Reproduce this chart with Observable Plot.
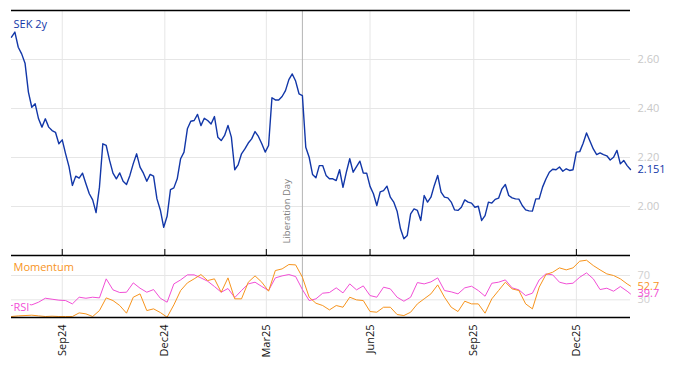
<!DOCTYPE html>
<html><head><meta charset="utf-8">
<script src="https://cdn.jsdelivr.net/npm/d3@7"></script>
<script src="https://cdn.jsdelivr.net/npm/@observablehq/plot@0.6"></script>
<style>
body{margin:0;background:#fff;}
#chart{width:674px;height:366px;overflow:hidden;}
#chart svg{display:block;}
</style></head><body><div id="chart"></div>
<script>
// ---- data ----
const seriesName = "SEK 2y";
const startDate = "2024-07-18";
const endDate = "2026-01-18";
const stepDays = 3;
const sek2y = [
2.691,2.712,2.650,2.623,2.585,2.467,2.405,2.419,2.358,2.324,
2.358,2.324,2.310,2.303,2.256,2.272,2.215,2.163,2.086,2.124,
2.116,2.136,2.093,2.052,2.027,1.975,2.079,2.256,2.249,2.188,
2.136,2.113,2.137,2.103,2.090,2.127,2.175,2.215,2.161,2.136,
2.103,2.131,2.124,2.031,1.986,1.915,1.960,2.069,2.076,2.113,
2.195,2.222,2.317,2.348,2.351,2.376,2.330,2.360,2.351,2.337,
2.367,2.283,2.269,2.290,2.331,2.283,2.150,2.170,2.215,2.235,
2.259,2.276,2.306,2.286,2.256,2.222,2.249,2.444,2.435,2.435,
2.449,2.473,2.518,2.541,2.512,2.460,2.453,2.242,2.201,2.131,
2.117,2.167,2.167,2.127,2.113,2.113,2.106,2.150,2.078,2.140,
2.195,2.140,2.163,2.185,2.137,2.136,2.082,2.052,2.004,2.060,
2.065,2.083,2.038,2.018,1.981,1.909,1.868,1.882,1.970,1.990,
1.984,1.943,2.045,2.018,2.038,2.086,2.127,2.059,2.038,2.035,
2.018,1.986,1.984,1.997,2.027,2.018,2.014,1.997,2.001,1.943,
1.963,2.018,2.014,2.029,2.034,2.072,2.090,2.045,2.035,2.031,
2.030,2.004,1.986,1.982,1.981,2.031,2.031,2.079,2.112,2.140,
2.152,2.150,2.161,2.144,2.154,2.147,2.150,2.222,2.224,2.258,
2.300,2.267,2.235,2.212,2.219,2.212,2.207,2.190,2.201,2.229,
2.174,2.188,2.167,2.151];
const indicatorStepDays = 6;
const rsi = [
20.6,22.2,23.3,21.7,26.1,32.6,31.0,29.4,28.8,23.3,
34.3,32.6,34.3,33.2,64.5,46.4,42.0,42.5,57.9,49.1,
42.5,46.9,32.6,26.1,56.2,62.8,71.1,71.1,66.1,60.6,
51.9,42.5,48.6,33.7,45.3,56.2,59.0,51.9,45.3,66.1,
69.4,71.6,68.3,46.9,28.8,31.6,40.9,42.0,49.7,41.4,
56.2,46.4,52.9,37.0,34.3,50.8,48.0,34.3,27.7,34.3,
58.4,56.2,59.5,66.1,45.3,43.1,39.8,49.7,52.4,45.3,
35.9,57.3,59.0,62.8,49.7,46.4,37.0,40.9,62.8,72.7,
71.1,59.0,56.2,57.3,67.2,74.3,64.5,46.9,49.1,44.2,
51.9,44.2,39.7];
const momentum = [
2.5,3.6,4.1,4.7,3.6,2.5,3.0,2.5,2.5,2.5,
8.5,6.9,2.5,12.3,33.2,28.8,20.6,8.0,34.3,39.8,
12.3,15.1,9.1,1.4,21.7,45.3,57.9,64.5,71.6,61.7,
64.5,42.5,66.1,31.6,31.6,59.0,69.4,59.0,44.2,78.2,
80.9,88.1,87.5,67.2,34.3,24.4,20.6,13.4,20.6,17.8,
34.3,29.9,28.8,10.7,9.6,17.8,17.8,5.8,4.1,9.6,
23.3,31.6,39.8,54.6,34.3,17.8,10.7,27.7,23.3,23.3,
8.0,31.6,45.3,59.0,48.0,45.3,23.3,15.1,50.8,71.6,
75.4,82.6,79.3,82.6,93.6,95.2,86.4,79.3,72.7,70.0,
64.5,56.2,52.7];
const tickDates = ["2024-09-01","2024-12-01","2025-03-01","2025-06-01","2025-09-01","2025-12-01"];
const tickLabels = ["Sep24","Dec24","Mar25","Jun25","Sep25","Dec25"];
const eventDate = "2025-04-02";
const eventLabel = "Liberation Day";
const yDomain = [1.8, 2.8];
const yTicks = [2.0, 2.2, 2.4, 2.6];
const indDomain = [0.9, 101.3];
const indTicks = [30, 70];

// ---- build ----
const blue = "#1237a8", orange = "#f7941d", magenta = "#f24fd6";
const t0 = new Date(startDate), tEnd = new Date(endDate);
const sekData = sek2y.map((v, i) => ({date: d3.utcDay.offset(t0, i * stepDays), value: v}));
const indDate = (i, n) => i === n - 1 ? tEnd : d3.utcDay.offset(t0, i * indicatorStepDays);
const rsiData = rsi.map((v, i) => ({date: indDate(i, rsi.length), value: v}));
const momData = momentum.map((v, i) => ({date: indDate(i, momentum.length), value: v}));
const ticks = tickDates.map(d => new Date(d));
const evDate = new Date(eventDate);
const tickFmt = d => tickLabels[tickDates.indexOf(d3.utcFormat("%Y-%m-%d")(d))];
const style = {fontFamily: "'Open Sans', sans-serif", fontSize: "11px", background: "#fff", overflow: "visible"};
const grid = {stroke: "#e6e6e6", strokeOpacity: 1};

const topChart = Plot.plot({
  width: 674, height: 256, marginTop: 10, marginBottom: 1, marginLeft: 11, marginRight: 44,
  style,
  x: {type: "utc", domain: [t0, tEnd], axis: null},
  y: {domain: yDomain, axis: null},
  marks: [
    Plot.gridY(yTicks, grid),
    Plot.gridX(ticks, grid),
    Plot.ruleX([evDate], {stroke: "#b4b4b4"}),
    Plot.text([{date: evDate, label: eventLabel}], {x: "date", text: "label", frameAnchor: "bottom", rotate: -90, textAnchor: "start", dx: -12, dy: -12, fill: "#808080", fontSize: 9.5}),
    Plot.lineY(sekData, {x: "date", y: "value", stroke: blue, strokeWidth: 1.4}),
    Plot.ruleY([yDomain[0]], {stroke: "#000", strokeWidth: 1.3}),
    Plot.ruleY([yDomain[1]], {stroke: "#000", strokeWidth: 1.3}),
    Plot.ruleX(ticks, {y1: yDomain[0], y2: yDomain[0], insetTop: -6, stroke: "#000"}),
    Plot.axisY({ticks: yTicks, anchor: "right", tickSize: 0, tickPadding: 7, tickFormat: d3.format(".2f"), color: "#c8c8c8", label: null, fontSize: 11}),
    Plot.text([sekData[sekData.length - 1]], {x: "date", y: "value", text: d => d.value.toFixed(3), textAnchor: "start", dx: 7, fill: blue, fontSize: 11}),
    Plot.text([seriesName], {frameAnchor: "top-left", dx: 2, dy: 10, fill: blue, stroke: "#fff", strokeWidth: 3, fontSize: 11})
  ]
});

const bottomChart = Plot.plot({
  width: 674, height: 110, marginTop: 0, marginBottom: 49, marginLeft: 11, marginRight: 44,
  style,
  x: {type: "utc", domain: [t0, tEnd], axis: null},
  y: {domain: indDomain, axis: null},
  marks: [
    Plot.gridY(indTicks, grid),
    Plot.gridX(ticks, grid),
    Plot.ruleX([evDate], {stroke: "#b4b4b4"}),
    Plot.lineY(rsiData, {x: "date", y: "value", stroke: magenta, strokeWidth: 1}),
    Plot.lineY(momData, {x: "date", y: "value", stroke: orange, strokeWidth: 1}),
    Plot.ruleY([indDomain[0]], {stroke: "#000", strokeWidth: 1.3}),
    Plot.axisX({ticks, tickSize: 0, tickPadding: 7, tickRotate: -90, tickFormat: tickFmt, label: null, fontSize: 11, color: "#111"}),
    Plot.axisY({ticks: indTicks, anchor: "right", tickSize: 0, tickPadding: 7, color: "#d0d0d0", label: null, fontSize: 11}),
    Plot.text([momData[momData.length - 1]], {x: "date", y: "value", text: d => d.value.toFixed(1), textAnchor: "start", dx: 7, fill: orange, fontSize: 11}),
    Plot.text([rsiData[rsiData.length - 1]], {x: "date", y: "value", text: d => d.value.toFixed(1), textAnchor: "start", dx: 7, fill: magenta, fontSize: 11}),
    Plot.text(["Momentum"], {frameAnchor: "top-left", dx: 2, dy: 7, fill: orange, stroke: "#fff", strokeWidth: 3, fontSize: 11}),
    Plot.text(["RSI"], {frameAnchor: "bottom-left", dx: 2, dy: -7, fill: magenta, stroke: "#fff", strokeWidth: 3, fontSize: 11})
  ]
});

document.getElementById("chart").append(topChart, bottomChart);
</script></body></html>
